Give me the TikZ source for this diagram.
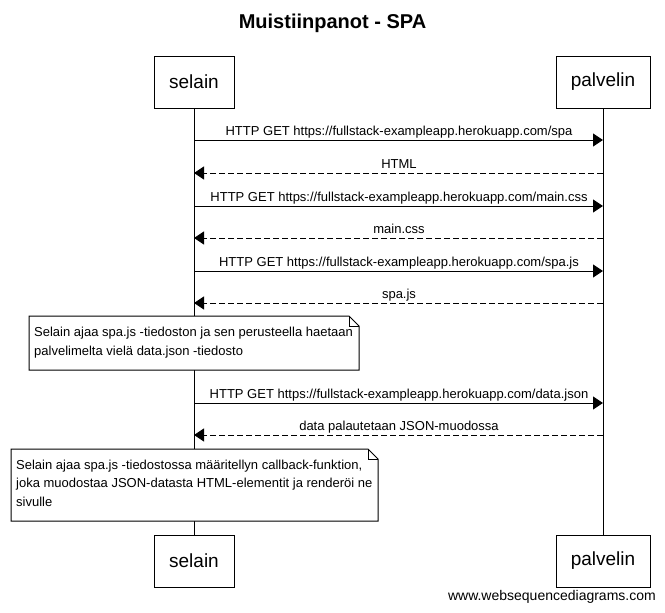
\documentclass[tikz,border=0pt]{standalone}
\usepackage{fontspec}
\setmainfont{Liberation Sans}
\usetikzlibrary{arrows.meta}
\begin{document}
\begin{tikzpicture}[x=1pt,y=-1pt,
  actor/.style={draw,line width=1pt,fill=white,font=\fontsize{19}{22}\selectfont,inner sep=0pt},
  selbox/.style={actor,minimum width=80pt,minimum height=52pt},
  palbox/.style={actor,minimum width=94pt,minimum height=52pt},
  life/.style={line width=1pt},
  req/.style={line width=1pt,-{Triangle[length=10pt,width=13pt]}},
  resp/.style={req,dash pattern=on 6pt off 3pt},
  lbl/.style={font=\fontsize{13}{15}\selectfont,anchor=base,inner sep=0pt},
  notebox/.style={draw,line width=1pt,fill=white},
  notetext/.style={font=\fontsize{13}{18.5}\selectfont,align=left,anchor=north west,inner sep=0pt}
]
\useasboundingbox (0,0) rectangle (665,613);
\node[font=\bfseries\fontsize{20}{24}\selectfont] (title) at (332.5,23) {Muistiinpanot - SPA};
% participants
\node[selbox] (s1) at (194,82) {selain};
\node[palbox] (p1) at (603,82) {palvelin};
\node[selbox] (s2) at (194,561) {selain};
\node[palbox] (p2) at (603,561) {palvelin};
\draw[life] (s1.south) -- (s2.north);
\draw[life] (p1.south) -- (p2.north);
% message endpoints
\foreach \i/\y in {1/140,2/173,3/206,4/238,5/271,6/303,7/403,8/435}{
  \coordinate (s\i) at (194,\y);
  \coordinate (p\i) at (603,\y);
}
\draw[req] (s1) -- (p1);
\node[lbl] (m1) at (399,135) {HTTP GET https://fullstack-exampleapp.herokuapp.com/spa};
\draw[resp] (p2) -- (s2);
\node[lbl] (m2) at (399,168) {HTML};
\draw[req] (s3) -- (p3);
\node[lbl] (m3) at (399,201) {HTTP GET https://fullstack-exampleapp.herokuapp.com/main.css};
\draw[resp] (p4) -- (s4);
\node[lbl] (m4) at (399,233) {main.css};
\draw[req] (s5) -- (p5);
\node[lbl] (m5) at (399,266) {HTTP GET https://fullstack-exampleapp.herokuapp.com/spa.js};
\draw[resp] (p6) -- (s6);
\node[lbl] (m6) at (399,298) {spa.js};
% note 1
\draw[notebox] (29,316) -- (349,316) -- (359,326) -- (359,370) -- (29,370) -- cycle;
\draw[line width=1pt] (349,316) -- (349,326) -- (359,326);
\node[notetext] (n1) at (34,327) {Selain ajaa spa.js -tiedoston ja sen perusteella haetaan\\palvelimelta vielä data.json -tiedosto};
\draw[req] (s7) -- (p7);
\node[lbl] (m7) at (399,398) {HTTP GET https://fullstack-exampleapp.herokuapp.com/data.json};
\draw[resp] (p8) -- (s8);
\node[lbl] (m8) at (399,430) {data palautetaan JSON-muodossa};
% note 2
\draw[notebox] (11,449) -- (368,449) -- (378,459) -- (378,521) -- (11,521) -- cycle;
\draw[line width=1pt] (368,449) -- (368,459) -- (378,459);
\node[notetext] (n2) at (16,459.5) {Selain ajaa spa.js -tiedostossa määritellyn callback-funktion,\\joka muodostaa JSON-datasta HTML-elementit ja renderöi ne\\sivulle};
\node[font=\fontsize{14}{16}\selectfont,anchor=east,inner sep=0pt] (footer) at (656,597) {www.websequencediagrams.com};
\end{tikzpicture}
\end{document}
